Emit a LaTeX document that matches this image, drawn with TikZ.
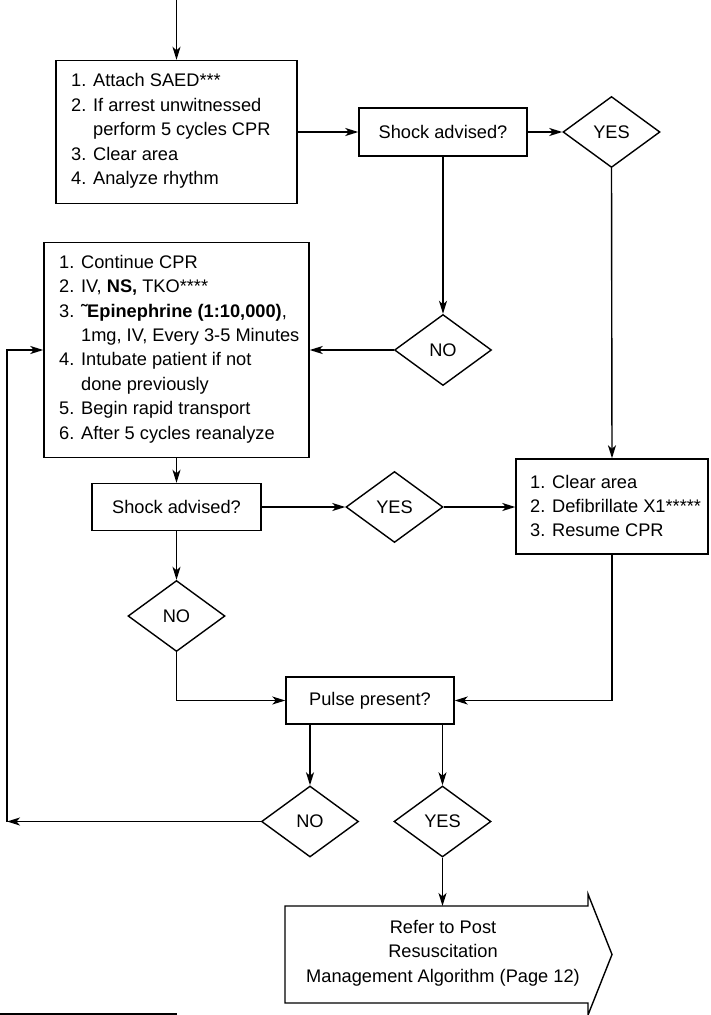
\documentclass[tikz,border=0pt]{standalone}
\usepackage{fontspec}
\setmainfont{Liberation Sans}
\usetikzlibrary{shapes.geometric,arrows.meta}
\begin{document}
\begin{tikzpicture}[x=1bp,y=-1bp,
  every node/.style={font=\fontsize{18.3}{24.5}\selectfont},
  line/.style={line width=1.4bp},
  arr/.style={line width=1.4bp,-{Stealth[length=13bp,width=8bp,inset=3.5bp]}},
  boxshape/.style={draw,line width=1.4bp,rectangle,inner sep=0pt},
  txt/.style={anchor=west,align=left,inner sep=0pt},
  decision/.style={draw,line width=1.4bp,diamond,aspect=1.366,inner sep=0pt,minimum width=97bp,minimum height=71bp}
]
\useasboundingbox (0,0) rectangle (711,1015);

\coordinate (start) at (176.5,0);
\node[boxshape,minimum width=241bp,minimum height=143bp] (box1) at (176.5,132) {};
\node[txt] (box1t) at (71,131) {1. Attach SAED***\\2. If arrest unwitnessed\\\phantom{2. }perform 5 cycles CPR\\3. Clear area\\4. Analyze rhythm};

\node[boxshape,minimum width=168bp,minimum height=48bp] (shock1) at (443,132) {Shock advised?};
\node[decision] (yes1) at (611.5,132) {YES};
\node[decision] (no1) at (443,350) {NO};

\node[boxshape,minimum width=265bp,minimum height=215bp] (box2) at (176.5,350) {};
\node[txt] (box2t) at (59,349) {1. Continue CPR\\2. IV, \textbf{NS,} TKO****\\3. \textbf{˜Epinephrine (1:10,000)},\\\phantom{3. }1mg, IV, Every 3-5 Minutes\\4. Intubate patient if not\\\phantom{4. }done previously\\5. Begin rapid transport\\6. After 5 cycles reanalyze};

\node[boxshape,minimum width=169bp,minimum height=47bp] (shock2) at (176.5,507) {Shock advised?};
\node[decision] (yes2) at (394.5,507) {YES};
\node[boxshape,minimum width=192bp,minimum height=95bp] (clear) at (612,506.5) {};
\node[txt] (cleart) at (530,506) {1. Clear area\\2. Defibrillate X1*****\\3. Resume CPR};

\node[decision] (no2) at (176.5,616) {NO};
\node[boxshape,minimum width=168bp,minimum height=47bp] (pulse) at (370,700.5) {Pulse present?};
\node[decision] (no3) at (310,821.5) {NO};
\node[decision] (yes3) at (442.5,821.5) {YES};

\node[align=center,inner sep=0pt] (refer) at (443,953) {Refer to Post\\Resuscitation\\Management Algorithm (Page 12)};
\draw[line] (285,906) -- (588,906) -- (588,894) -- (612,954.5) -- (588,1015) -- (588,1003) -- (285,1003) -- cycle;
\coordinate (refertop) at (442.5,906);

\coordinate (corner) at (7,821.5);
\coordinate (cornerup) at (7,350);

% connectors
\draw[arr] (start) -- (box1.north);
\draw[arr] (box1.east |- shock1.west) -- (shock1.west);
\draw[arr] (shock1.east) -- (yes1.west);
\draw[arr] (shock1.south) -- (no1.north);
\draw[arr] (no1.west) -- (box2.east |- no1.west);
\draw[arr] (yes1.south) -- (clear.north);
\draw[arr] (box2.south) -- (shock2.north);
\draw[arr] (shock2.east) -- (yes2.west);
\draw[arr] (yes2.east) -- (clear.west |- yes2.east);
\draw[arr] (shock2.south) -- (no2.north);
\draw[arr] (no2.south) |- (pulse.west);
\draw[arr] (clear.south) |- (pulse.east);
\draw[arr] (no3.north |- pulse.south) -- (no3.north);
\draw[arr] (yes3.north |- pulse.south) -- (yes3.north);
\draw[arr] (no3.west) -- (corner);
\draw[arr] (corner) -- (cornerup) -- (box2.west |- cornerup);
\draw[arr] (yes3.south) -- (refertop);

\draw[line width=1.6bp] (0,1014) -- (177,1014);
\end{tikzpicture}
\end{document}
